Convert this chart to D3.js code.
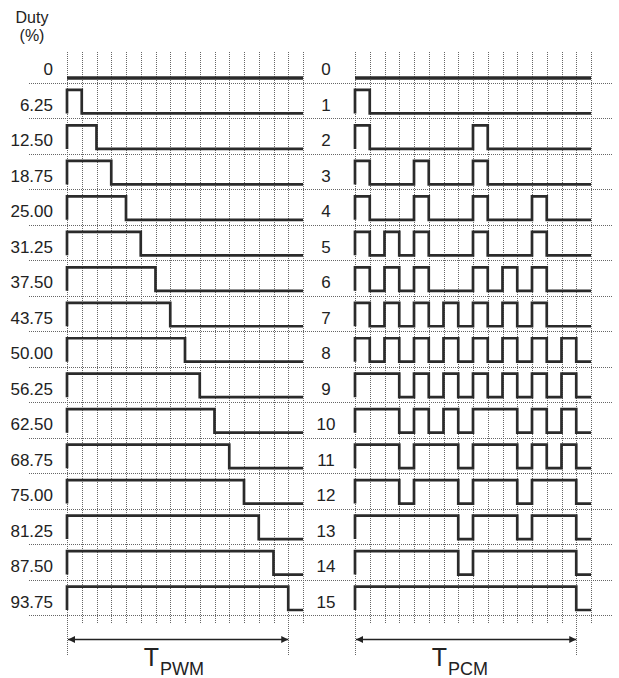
<!DOCTYPE html>
<html>
<head>
<meta charset="utf-8">
<script src="https://cdn.jsdelivr.net/npm/d3@7"></script>
<style>
  body { margin: 0; background: #fff; }
  text { font-family: "Liberation Sans", Arial, sans-serif; fill: #222; }
</style>
</head>
<body>
<div id="chart"></div>
<script>
// row labels
var pwmDuty = ["0", "6.25", "12.50", "18.75", "25.00", "31.25", "37.50", "43.75",
               "50.00", "56.25", "62.50", "68.75", "75.00", "81.25", "87.50", "93.75"];
// number of high slots (out of 16) for each PWM row
var pwmOnSlots = [0, 1, 2, 3, 4, 5, 6, 7, 8, 9, 10, 11, 12, 13, 14, 15];

var pcmLevels = ["0", "1", "2", "3", "4", "5", "6", "7",
                 "8", "9", "10", "11", "12", "13", "14", "15"];
var pcmPatterns = [
  "0000000000000000",
  "1000000000000000",
  "1000000010000000",
  "1000100010000000",
  "1000100010001000",
  "1010100010001000",
  "1010100010101000",
  "1010101010101000",
  "1010101010101010",
  "1110101010101010",
  "1110101011101010",
  "1110111011101010",
  "1110111011101110",
  "1111111011101110",
  "1111111011111110",
  "1111111111111110"
];

var slots = 16;
var width = 619, height = 678;

var svg = d3.select("#chart").append("svg")
  .attr("width", width)
  .attr("height", height);

var y = d3.scaleBand()
  .domain(d3.range(pwmDuty.length))
  .range([47.5, 615]);

var xL = d3.scaleLinear().domain([0, slots]).range([67, 303]);
var xR = d3.scaleLinear().domain([0, slots]).range([355, 591]);

var hiOff = 7, loOff = 5;

// dotted grid
var grid = svg.append("g")
  .attr("stroke", "#666")
  .attr("stroke-width", 1)
  .attr("stroke-dasharray", "1,1")
  .attr("fill", "none");

// horizontal row separators
grid.selectAll("line.h")
  .data(d3.range(pwmDuty.length))
  .enter().append("line")
    .attr("x1", 29).attr("x2", 612)
    .attr("y1", function(d) { return Math.round(y(d) + y.bandwidth()) + 0.5; })
    .attr("y2", function(d) { return Math.round(y(d) + y.bandwidth()) + 0.5; });

// vertical slot lines, the period edges go lower for the arrows
[xL, xR].forEach(function(x) {
  grid.selectAll(null)
    .data(d3.range(slots + 1))
    .enter().append("line")
      .attr("x1", function(d) { return Math.round(x(d)) + 0.5; })
      .attr("x2", function(d) { return Math.round(x(d)) + 0.5; })
      .attr("y1", 52)
      .attr("y2", function(d) { return (d == 0 || d == 15) ? 655 : 623; });
});

function bitsToPoints(bits) {
  var pts = [[0, 0]];
  for (var i = 0; i < bits.length; i++) {
    var b = +bits[i];
    pts.push([i, b]);
    pts.push([i + 1, b]);
  }
  pts.push([slots, 0]);
  return pts;
}

function drawSide(x, labels, patterns, labelX, anchor) {
  var g = svg.append("g");
  var rows = g.selectAll("g.row")
    .data(labels.map(function(l, i) { return {label: l, bits: patterns[i], i: i}; }))
    .enter().append("g");

  rows.append("text")
    .attr("x", labelX)
    .attr("y", function(d) { return y(d.i) + y.bandwidth() - 7.5; })
    .attr("text-anchor", anchor)
    .attr("font-size", 17)
    .text(function(d) { return d.label; });

  rows.append("path")
    .attr("fill", "none")
    .attr("stroke", "#2b2b2b")
    .attr("stroke-width", function(d) { return d.i == 0 ? 3.6 : 2.7; })
    .attr("stroke-linejoin", "miter")
    .attr("d", function(d) {
      var top = y(d.i) + hiOff, bot = y(d.i) + y.bandwidth() - loOff;
      return d3.line()
        .x(function(p) { return x(p[0]); })
        .y(function(p) { return p[1] ? top : bot; })(bitsToPoints(d.bits));
    });
}

var pwmPatterns = pwmOnSlots.map(function(n) {
  return d3.range(slots).map(function(i) { return i < n ? "1" : "0"; }).join("");
});

drawSide(xL, pwmDuty, pwmPatterns, 53, "end");
drawSide(xR, pcmLevels, pcmPatterns, 326, "middle");

// header
svg.append("text").attr("x", 32).attr("y", 23).attr("text-anchor", "middle")
  .attr("font-size", 16).text("Duty");
svg.append("text").attr("x", 32).attr("y", 41).attr("text-anchor", "middle")
  .attr("font-size", 16).text("(%)");

// period arrows
var defs = svg.append("defs");
defs.append("marker")
  .attr("id", "ah")
  .attr("viewBox", "0 0 10 10")
  .attr("refX", 10).attr("refY", 5)
  .attr("markerWidth", 8).attr("markerHeight", 7)
  .attr("markerUnits", "userSpaceOnUse")
  .attr("orient", "auto-start-reverse")
  .append("path").attr("d", "M0,0L10,5L0,10Z").attr("fill", "#222");

[[xL, "PWM"], [xR, "PCM"]].forEach(function(p) {
  var x = p[0];
  svg.append("line")
    .attr("x1", x(0) + 1).attr("x2", x(15))
    .attr("y1", 639.5).attr("y2", 639.5)
    .attr("stroke", "#222").attr("stroke-width", 1.4)
    .attr("marker-start", "url(#ah)")
    .attr("marker-end", "url(#ah)");
  var t = svg.append("text")
    .attr("x", (x(0) + x(15)) / 2 - 34)
    .attr("y", 666)
    .attr("font-size", 25);
  t.append("tspan").text("T");
  t.append("tspan").attr("font-size", 18).attr("dy", 9).attr("dx", 1).text(p[1]);
});
</script>
</body>
</html>
